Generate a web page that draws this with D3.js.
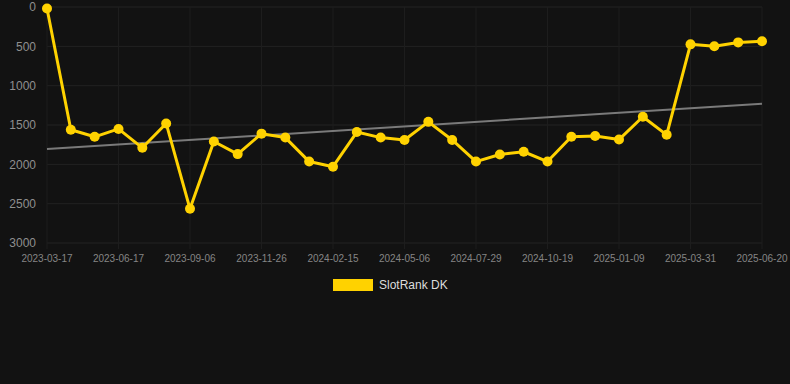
<!DOCTYPE html>
<html>
<head>
<meta charset="utf-8">
<script src="https://cdn.jsdelivr.net/npm/d3@7"></script>
<style>
  body { margin: 0; background: #121212; }
  svg { display: block; font-family: "Liberation Sans", Arial, sans-serif; }
</style>
</head>
<body>
<script>
// dates (category axis, one label every 3rd point)
const dates = [
  '2023-03-17', '2023-04-17', '2023-05-17', '2023-06-17', '2023-07-14', '2023-08-10',
  '2023-09-06', '2023-10-03', '2023-10-30', '2023-11-26', '2023-12-23', '2024-01-19',
  '2024-02-15', '2024-03-13', '2024-04-09', '2024-05-06', '2024-06-03', '2024-07-01',
  '2024-07-29', '2024-08-25', '2024-09-21', '2024-10-19', '2024-11-15', '2024-12-12',
  '2025-01-09', '2025-02-05', '2025-03-04', '2025-03-31', '2025-04-27', '2025-05-24',
  '2025-06-20'
]
const rankDK = [
  20, 1560, 1650, 1550, 1790, 1480,
  2565, 1710, 1870, 1610, 1660, 1965,
  2030, 1590, 1660, 1690, 1460, 1690,
  1965, 1875, 1840, 1965, 1650, 1640,
  1685, 1395, 1625, 475, 500, 450,
  435
]
const yTicks = [0, 500, 1000, 1500, 2000, 2500, 3000]
const seriesName = 'SlotRank DK'

const width = 790, height = 384
const margin = {top: 7, right: 28, bottom: 141, left: 47}

const svg = d3.select('body').append('svg')
  .attr('width', width)
  .attr('height', height)

svg.append('rect').attr('width', width).attr('height', height).attr('fill', '#121212')

const x = d3.scalePoint()
  .domain(dates)
  .range([margin.left, width - margin.right])

// rank axis is reversed: 0 on top
const y = d3.scaleLinear()
  .domain([0, 3000])
  .range([margin.top, height - margin.bottom])

// grid
const g = svg.append('g')
g.selectAll('.hgrid')
  .data(yTicks)
  .enter().append('line')
  .attr('x1', margin.left)
  .attr('x2', width - margin.right)
  .attr('y1', d => y(d))
  .attr('y2', d => y(d))
  .attr('stroke', '#222222')
  .attr('stroke-width', 1)

const xLabels = dates.filter((d, i) => i % 3 === 0)
g.selectAll('.vgrid')
  .data(xLabels)
  .enter().append('line')
  .attr('x1', d => x(d))
  .attr('x2', d => x(d))
  .attr('y1', margin.top)
  .attr('y2', height - margin.bottom + 6)
  .attr('stroke', '#1d1d1d')
  .attr('stroke-width', 1)

// y labels
svg.selectAll('.ylab')
  .data(yTicks)
  .enter().append('text')
  .attr('x', margin.left - 11)
  .attr('y', d => y(d))
  .attr('dy', '0.35em')
  .attr('text-anchor', 'end')
  .attr('fill', '#8f8f8f')
  .style('font-size', '12px')
  .text(d => d)

// x labels
svg.selectAll('.xlab')
  .data(xLabels)
  .enter().append('text')
  .attr('x', d => x(d))
  .attr('y', height - margin.bottom + 19)
  .attr('text-anchor', 'middle')
  .attr('fill', '#858585')
  .style('font-size', '10px')
  .text(d => d)

// linear trend (least squares on index)
const n = rankDK.length
const mx = d3.mean(rankDK, (d, i) => i)
const my = d3.mean(rankDK)
const slope = d3.sum(rankDK, (d, i) => (i - mx) * (d - my)) / d3.sum(rankDK, (d, i) => (i - mx) * (i - mx))
const icpt = my - slope * mx
svg.append('line')
  .attr('x1', x(dates[0]))
  .attr('y1', y(icpt))
  .attr('x2', x(dates[n - 1]))
  .attr('y2', y(icpt + slope * (n - 1)))
  .attr('stroke', '#7a7a7a')
  .attr('stroke-width', 2)

// series line
const line = d3.line()
  .x((d, i) => x(dates[i]))
  .y(d => y(d))
svg.append('path')
  .datum(rankDK)
  .attr('d', line)
  .attr('fill', 'none')
  .attr('stroke', '#FFD200')
  .attr('stroke-width', 3)
  .attr('stroke-linejoin', 'round')

svg.selectAll('.dot')
  .data(rankDK)
  .enter().append('circle')
  .attr('cx', (d, i) => x(dates[i]))
  .attr('cy', d => y(d))
  .attr('r', 5)
  .attr('fill', '#FFD200')

// legend
const legend = svg.append('g')
legend.append('rect')
  .attr('x', 333)
  .attr('y', 279)
  .attr('width', 40)
  .attr('height', 12)
  .attr('fill', '#FFD200')
legend.append('text')
  .attr('x', 379)
  .attr('y', 285)
  .attr('dy', '0.35em')
  .attr('fill', '#dddddd')
  .style('font-size', '12px')
  .text(seriesName)
</script>
</body>
</html>
